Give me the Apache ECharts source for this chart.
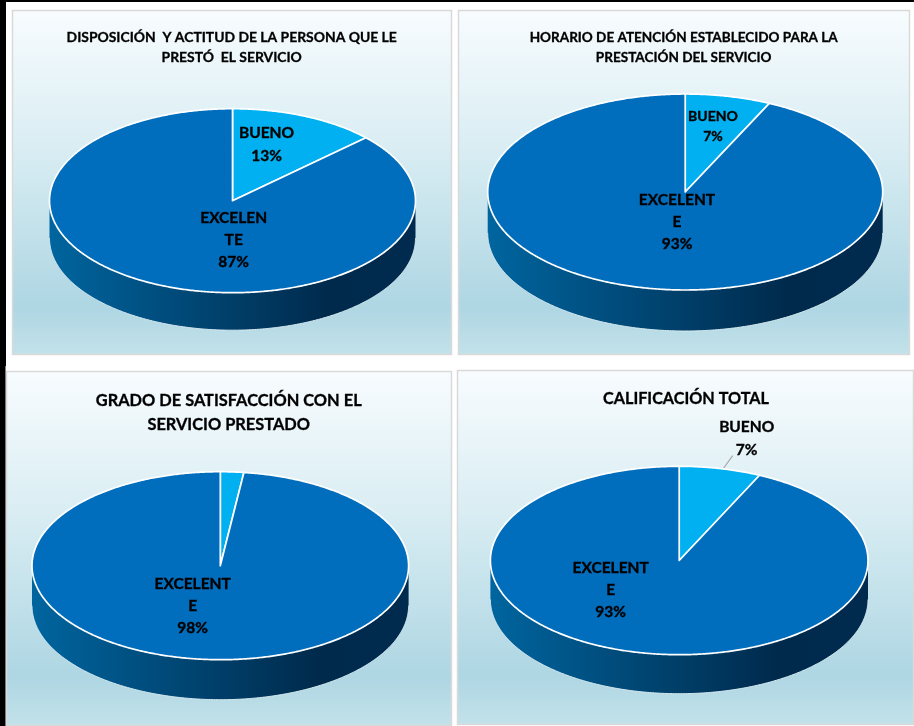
<!DOCTYPE html>
<html>
<head>
<meta charset="utf-8">
<title>Encuesta de satisfacción</title>
<style>
  html, body { margin: 0; padding: 0; background: #ffffff; }
  #chart { width: 914px; height: 726px; }
</style>
<script src="https://cdn.jsdelivr.net/npm/echarts@6/dist/echarts.min.js"></script>
</head>
<body>
<div id="chart"></div>
<script>
// Answer categories, drawn clockwise from twelve o'clock
const categories = ['BUENO', 'EXCELENTE'];

// Percentage of answers per category for each question
const disposicionValues = [13, 87];
const horarioValues = [7, 93];
const satisfaccionValues = [2, 98];
const calificacionValues = [7, 93];

// Question headings
const disposicionTitle = 'DISPOSICIÓN  Y ACTITUD DE LA PERSONA QUE LE\nPRESTÓ  EL SERVICIO';
const horarioTitle = 'HORARIO DE ATENCIÓN ESTABLECIDO PARA LA\nPRESTACIÓN DEL SERVICIO';
const satisfaccionTitle = 'GRADO DE SATISFACCIÓN CON EL\nSERVICIO PRESTADO';
const calificacionTitle = 'CALIFICACIÓN TOTAL';

// Layout of each panel: frame, tilted disc and label placement
const panels = [
  {
    values: disposicionValues, title: disposicionTitle,
    frame: [12, 10, 440, 345], disc: { cx: 232.5, cy: 200.7, rx: 183, ry: 92, depth: 37.5 },
    titleAt: [231.7, 28], titleSize: 13.9, titleLine: 20,
    labels: [
      { at: [266.5, 144], size: 15.5, line: 23 },
      { at: [233.7, 240], size: 15.5, line: 22, breakAt: 7 }
    ]
  },
  {
    values: horarioValues, title: horarioTitle,
    frame: [458, 10, 452, 345], disc: { cx: 685.2, cy: 192, rx: 197.5, ry: 98, depth: 41 },
    titleAt: [683.7, 28], titleSize: 13.55, titleLine: 19.5,
    labels: [
      { at: [713, 126], size: 14, line: 20 },
      { at: [677, 221.5], size: 15.5, line: 22, breakAt: 8 }
    ]
  },
  {
    values: satisfaccionValues, title: satisfaccionTitle,
    frame: [6, 371, 446, 355], disc: { cx: 220.3, cy: 565.7, rx: 188.3, ry: 94, depth: 40 },
    titleAt: [228.7, 389], titleSize: 16.4, titleLine: 23.5,
    labels: [
      null,
      { at: [192.7, 606], size: 15.5, line: 22, breakAt: 8 }
    ]
  },
  {
    values: calificacionValues, title: calificacionTitle,
    frame: [457, 370, 457, 355], disc: { cx: 679.2, cy: 560.5, rx: 188.8, ry: 94.2, depth: 39 },
    titleAt: [686, 389], titleSize: 16.2, titleLine: 20,
    labels: [
      { at: [746.7, 438.5], size: 15.5, line: 23, leader: [[723.7, 468], [732.7, 455.7]] },
      { at: [610.7, 589.7], size: 15.5, line: 22, breakAt: 8 }
    ]
  }
];

const FONT = 'Lato, Carlito, "Open Sans", sans-serif';
const TOP_COLORS = ['#00b0f0', '#006dbd'];

// Point on the tilted rim; angle is in degrees, clockwise from twelve o'clock
function rimPoint(disc, angle, dy) {
  const r = angle * Math.PI / 180;
  return [disc.cx + disc.rx * Math.sin(r), disc.cy - disc.ry * Math.cos(r) + (dy || 0)];
}

function rimArc(disc, from, to, dy) {
  const pts = [];
  const steps = Math.max(2, Math.ceil(Math.abs(to - from) * 2));
  for (let i = 0; i <= steps; i++) {
    pts.push(rimPoint(disc, from + (to - from) * i / steps, dy));
  }
  return pts;
}

function sliceRenderer(panel) {
  const total = panel.values.reduce((a, b) => a + b, 0);
  return function (params, api) {
    const i = params.dataIndex;
    const disc = panel.disc;
    const before = panel.values.slice(0, i).reduce((a, b) => a + b, 0);
    const start = before / total * 360;
    const end = start + api.value(0) / total * 360;
    const children = [];

    // Front wall: only the part of the slice facing the viewer
    const wallFrom = Math.max(start, 90);
    const wallTo = Math.min(end, 270);
    if (wallTo > wallFrom) {
      const upper = rimArc(disc, wallFrom, wallTo, 0);
      const lower = rimArc(disc, wallTo, wallFrom, disc.depth);
      children.push({
        type: 'polygon',
        shape: { points: upper.concat(lower) },
        style: {
          fill: new echarts.graphic.LinearGradient(0, 0, 1, 0, [
            { offset: 0, color: '#00659f' },
            { offset: 0.76, color: '#002a4c' },
            { offset: 1, color: '#002b4f' }
          ])
        }
      });
      children.push({
        type: 'polyline',
        shape: { points: lower },
        style: { stroke: '#d8ebf1', lineWidth: 1, fill: null }
      });
    }

    // Top face of the slice
    const top = [[disc.cx, disc.cy]].concat(rimArc(disc, start, end, 0));
    children.push({
      type: 'polygon',
      shape: { points: top },
      style: { fill: TOP_COLORS[i], stroke: '#ffffff', lineWidth: 1.7, lineJoin: 'round' }
    });

    // Category name and share
    const label = panel.labels[i];
    if (label) {
      const name = categories[i];
      const wrapped = label.breakAt
        ? name.slice(0, label.breakAt) + '\n' + name.slice(label.breakAt)
        : name;
      if (label.leader) {
        children.push({
          type: 'polyline',
          shape: { points: label.leader },
          style: { stroke: '#a6a6a6', lineWidth: 1.2, fill: null }
        });
      }
      children.push({
        type: 'text',
        z2: 10,
        style: {
          text: wrapped + '\n' + api.value(0) + '%',
          x: label.at[0],
          y: label.at[1],
          align: 'center',
          verticalAlign: 'middle',
          fill: '#000000',
          stroke: '#000000',
          lineWidth: 0.35,
          fontFamily: FONT,
          fontWeight: 700,
          fontSize: label.size,
          lineHeight: label.line
        }
      });
    }
    return { type: 'group', children: children };
  };
}

const chart = echarts.init(document.getElementById('chart'), null, { renderer: 'canvas' });

// Panel backgrounds and the dark strip along the top and left edges
const backdrop = panels.map(p => ({
  type: 'rect',
  z: 0,
  silent: true,
  shape: { x: p.frame[0] + 0.5, y: p.frame[1] + 0.5, width: p.frame[2] - 1, height: p.frame[3] - 1 },
  style: {
    stroke: '#d9d9d9',
    lineWidth: 1.5,
    fill: new echarts.graphic.LinearGradient(0, 0, 0, 1, [
      { offset: 0, color: '#f8fcfe' },
      { offset: 0.4, color: '#d9edf3' },
      { offset: 0.86, color: '#aed6e3' },
      { offset: 1, color: '#c3e2ea' }
    ])
  }
}));
backdrop.push(
  { type: 'rect', z: 1, silent: true, shape: { x: 0, y: 0, width: 914, height: 2 }, style: { fill: '#000000' } },
  { type: 'rect', z: 1, silent: true, shape: { x: 0, y: 0, width: 6, height: 366 }, style: { fill: '#000000' } },
  { type: 'rect', z: 1, silent: true, shape: { x: 0, y: 366, width: 5.5, height: 360 }, style: { fill: '#000000' } }
);

chart.setOption({
  animation: false,
  backgroundColor: '#ffffff',
  graphic: { elements: backdrop },
  title: panels.map(p => ({
    text: p.title,
    left: p.titleAt[0],
    top: p.titleAt[1],
    textAlign: 'center',
    padding: 0,
    textStyle: {
      color: '#000000',
      fontFamily: FONT,
      fontWeight: 700,
      fontSize: p.titleSize,
      lineHeight: p.titleLine,
      textBorderColor: '#000000',
      textBorderWidth: 0.3
    }
  })),
  series: panels.map(p => ({
    type: 'custom',
    coordinateSystem: 'none',
    silent: true,
    renderItem: sliceRenderer(p),
    data: p.values.map((v, i) => ({ name: categories[i], value: [v] })),
    encode: { value: 0 }
  }))
});
</script>
</body>
</html>
